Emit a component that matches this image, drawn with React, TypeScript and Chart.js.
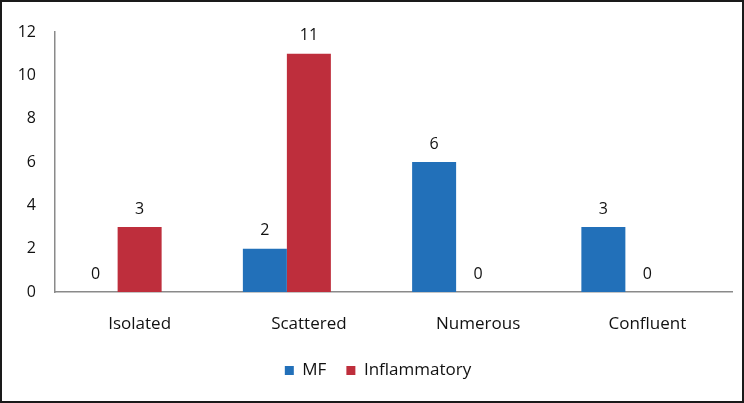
import React, { useEffect, useRef } from "react";
import { Chart, registerables } from "chart.js";

Chart.register(...registerables);

const categories = ["Isolated", "Scattered", "Numerous", "Confluent"];
const mfValues = [0, 2, 6, 3];
const inflammatoryValues = [3, 11, 0, 0];
const spacerValues = [null, null, null, null];
const seriesNames = ["MF", "Inflammatory"];

const BLUE = "#2270B9";
const RED = "#BE2E3C";
const TEXT = "#111111";
const FONT = "'Open Sans', 'Noto Sans', sans-serif";

const valueLabels = {
  id: "valueLabels",
  afterDatasetsDraw(chart: any) {
    const ctx = chart.ctx;
    ctx.save();
    ctx.fillStyle = TEXT;
    ctx.font = `16px ${FONT}`;
    ctx.textAlign = "center";
    ctx.textBaseline = "middle";
    [0, 1].forEach((di) => {
      const meta = chart.getDatasetMeta(di);
      meta.data.forEach((bar: any, i: number) => {
        const v = chart.data.datasets[di].data[i];
        if (v === null || v === undefined) return;
        ctx.fillText(String(v), bar.x, bar.y - 18);
      });
    });
    ctx.restore();
  },
};

const legendShift = {
  id: "legendShift",
  afterLayout(chart: any) {
    if (chart.legend) {
      chart.legend.left += 12;
      chart.legend.right += 12;
    }
  },
};

export default function App() {
  const ref = useRef<HTMLCanvasElement | null>(null);
  useEffect(() => {
    document.body.style.margin = "0";
    const chart = new Chart(ref.current as HTMLCanvasElement, {
      type: "bar",
      data: {
        labels: categories,
        datasets: [
          { label: seriesNames[0], data: mfValues, backgroundColor: BLUE },
          { label: seriesNames[1], data: inflammatoryValues, backgroundColor: RED },
          { label: "", data: spacerValues as any, backgroundColor: "rgba(0,0,0,0)" },
        ],
      },
      options: {
        responsive: false,
        animation: false,
        devicePixelRatio: 1,
        layout: { padding: { top: 32, right: 12, left: 0, bottom: 14 } },
        datasets: { bar: { categoryPercentage: 0.78, barPercentage: 1.0 } },
        plugins: {
          tooltip: { enabled: false },
          legend: {
            position: "bottom",
            labels: {
              filter: (item: any) => item.datasetIndex < 2,
              boxWidth: 9,
              boxHeight: 9,
              padding: 20,
              color: TEXT,
              font: { family: FONT, size: 17 },
            },
          },
        },
        scales: {
          x: {
            grid: { display: false, drawTicks: false },
            border: { display: true, color: "#8a8a8a", width: 1.5 },
            ticks: { color: TEXT, font: { family: FONT, size: 17 }, padding: 22 },
            afterFit: (s: any) => {
              s.height = 50;
            },
          },
          y: {
            min: 0,
            max: 12,
            grid: { display: false, drawTicks: false },
            border: { display: true, color: "#8a8a8a", width: 1.5 },
            ticks: { stepSize: 2, color: TEXT, font: { family: FONT, size: 16 }, padding: 19 },
            afterFit: (s: any) => {
              s.width = 55;
            },
          },
        },
      },
      plugins: [valueLabels, legendShift],
    });
    return () => chart.destroy();
  }, []);
  return (
    <div style={{ position: "relative", width: 744, height: 403, background: "#fff" }}>
      <canvas ref={ref} width={744} height={403} style={{ display: "block" }} />
      <div
        style={{
          position: "absolute",
          left: 0,
          top: 0,
          width: 744,
          height: 403,
          boxSizing: "border-box",
          border: "2px solid #1a1a1a",
          pointerEvents: "none",
        }}
      />
    </div>
  );
}
